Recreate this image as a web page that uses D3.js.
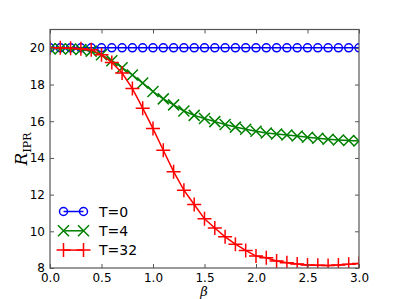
<!DOCTYPE html>
<html>
<head>
<meta charset="utf-8">
<script src="https://cdn.jsdelivr.net/npm/d3@7"></script>
<style>
  body { margin: 0; background: #fff; }
  text { font-family: "DejaVu Sans", sans-serif; }
</style>
</head>
<body>
<svg width="399" height="299"></svg>
<script>
let width = 399;
let height = 299;

// beta values, 0.0 .. 3.0 step 0.1
const beta = [0.0, 0.1, 0.2, 0.3, 0.4, 0.5, 0.6, 0.7, 0.8, 0.9, 1.0,
  1.1, 1.2, 1.3, 1.4, 1.5, 1.6, 1.7, 1.8, 1.9, 2.0,
  2.1, 2.2, 2.3, 2.4, 2.5, 2.6, 2.7, 2.8, 2.9, 3.0];

const t0 = [20, 20, 20, 20, 20, 20, 20, 20, 20, 20, 20,
  20, 20, 20, 20, 20, 20, 20, 20, 20, 20,
  20, 20, 20, 20, 20, 20, 20, 20, 20, 20];

const t4 = [19.95, 19.95, 19.94, 19.91, 19.82, 19.62, 19.3, 18.92, 18.52, 18.08, 17.62,
  17.22, 16.89, 16.56, 16.32, 16.15, 15.98, 15.82, 15.68, 15.56, 15.45,
  15.36, 15.3, 15.25, 15.2, 15.13, 15.07, 15.02, 14.98, 14.95, 14.92];

const t32 = [20.0, 20.0, 19.98, 19.95, 19.9, 19.62, 19.2, 18.63, 17.78, 16.71, 15.6,
  14.42, 13.25, 12.24, 11.46, 10.68, 10.18, 9.7, 9.3, 8.96, 8.65,
  8.56, 8.38, 8.29, 8.22, 8.17, 8.15, 8.14, 8.16, 8.2, 8.25];

const xTicks = [0.0, 0.5, 1.0, 1.5, 2.0, 2.5, 3.0];
const yTicks = [8, 10, 12, 14, 16, 18, 20];

const seriesNames = ["T=0", "T=4", "T=32"];
const seriesColors = ["#0000ff", "#008000", "#ff0000"];
const seriesMarkers = ["circle", "x", "plus"];

let mLeft = 50, mRight = 359, mTop = 29.5, mBottom = 268;

let svg = d3.select("svg");

let xScale = d3.scaleLinear().domain([0, 3]).range([mLeft, mRight]);
let yScale = d3.scaleLinear().domain([8, 21]).range([mBottom, mTop]);

// clip so markers at edges get cut like matplotlib
svg.append("clipPath").attr("id", "clip")
  .append("rect")
  .attr("x", mLeft).attr("y", mTop)
  .attr("width", mRight - mLeft).attr("height", mBottom - mTop);

let plot = svg.append("g").attr("clip-path", "url(#clip)");

function drawMarker(g, type, x, y, color) {
  if (type == "circle") {
    g.append("circle").attr("cx", x).attr("cy", y).attr("r", 4)
      .attr("fill", "none").attr("stroke", color).attr("stroke-width", 1.5);
  } else if (type == "x") {
    let s = 5.5;
    g.append("path")
      .attr("d", "M" + (x - s) + "," + (y - s) + "L" + (x + s) + "," + (y + s) +
        "M" + (x - s) + "," + (y + s) + "L" + (x + s) + "," + (y - s))
      .attr("stroke", color).attr("stroke-width", 1.5).attr("fill", "none");
  } else {
    let s = 7;
    g.append("path")
      .attr("d", "M" + (x - s) + "," + y + "L" + (x + s) + "," + y +
        "M" + x + "," + (y - s) + "L" + x + "," + (y + s))
      .attr("stroke", color).attr("stroke-width", 1.5).attr("fill", "none");
  }
}

let allSeries = [t0, t4, t32];
let line = d3.line()
  .x(function (d, i) { return xScale(beta[i]); })
  .y(function (d) { return yScale(d); });

for (var k = 0; k < allSeries.length; k++) {
  plot.append("path")
    .datum(allSeries[k])
    .attr("d", line)
    .attr("fill", "none")
    .attr("stroke", seriesColors[k])
    .attr("stroke-width", 1.5);
  for (var i = 0; i < beta.length; i++) {
    drawMarker(plot, seriesMarkers[k], xScale(beta[i]), yScale(allSeries[k][i]), seriesColors[k]);
  }
}

// axes: ticks inside, on all four sides
let xAxis = svg.append("g")
  .attr("transform", "translate(0," + mBottom + ")")
  .call(d3.axisBottom(xScale).tickValues(xTicks).tickFormat(d3.format(".1f"))
    .tickSizeInner(-4).tickSizeOuter(0).tickPadding(5));
let yAxis = svg.append("g")
  .attr("transform", "translate(" + mLeft + ",0)")
  .call(d3.axisLeft(yScale).tickValues(yTicks)
    .tickSizeInner(-4).tickSizeOuter(0).tickPadding(5));
let xTop = svg.append("g")
  .attr("transform", "translate(0," + mTop + ")")
  .call(d3.axisTop(xScale).tickValues(xTicks).tickFormat("")
    .tickSizeInner(-4).tickSizeOuter(0));
let yRight = svg.append("g")
  .attr("transform", "translate(" + mRight + ",0)")
  .call(d3.axisRight(yScale).tickValues(yTicks).tickFormat("")
    .tickSizeInner(-4).tickSizeOuter(0));

[xAxis, yAxis, xTop, yRight].forEach(function (a) {
  a.select(".domain").remove();
  a.selectAll("line").attr("stroke", "#555").attr("stroke-width", 1);
  a.selectAll("text").attr("fill", "#000").style("font-size", "12px")
    .style("font-family", "DejaVu Sans, sans-serif");
});

svg.append("rect")
  .attr("x", mLeft).attr("y", mTop)
  .attr("width", mRight - mLeft).attr("height", mBottom - mTop)
  .attr("fill", "none").attr("stroke", "#555").attr("stroke-width", 1.2);

// axis labels
svg.append("text")
  .attr("x", 204).attr("y", 296)
  .attr("text-anchor", "middle")
  .style("font-family", "DejaVu Serif, serif")
  .style("font-style", "italic")
  .style("font-size", "13px")
  .text("β");

let ylab = svg.append("text")
  .attr("transform", "translate(27,149) rotate(-90)")
  .attr("text-anchor", "middle")
  .style("font-family", "DejaVu Serif, serif")
  .style("font-size", "17px");
ylab.append("tspan").style("font-style", "italic").text("R");
ylab.append("tspan").attr("dy", 4).style("font-size", "11px").text("IPR");

// legend
let legend = svg.append("g");
for (var k = 0; k < seriesNames.length; k++) {
  let ly = 211.5 + k * 19.3;
  legend.append("line")
    .attr("x1", 63.5).attr("x2", 83.5).attr("y1", ly).attr("y2", ly)
    .attr("stroke", seriesColors[k]).attr("stroke-width", 1.5);
  drawMarker(legend, seriesMarkers[k], 63.5, ly, seriesColors[k]);
  drawMarker(legend, seriesMarkers[k], 83.5, ly, seriesColors[k]);
  legend.append("text")
    .attr("x", 99).attr("y", ly + 5)
    .style("font-size", "14px")
    .text(seriesNames[k]);
}
</script>
</body>
</html>
